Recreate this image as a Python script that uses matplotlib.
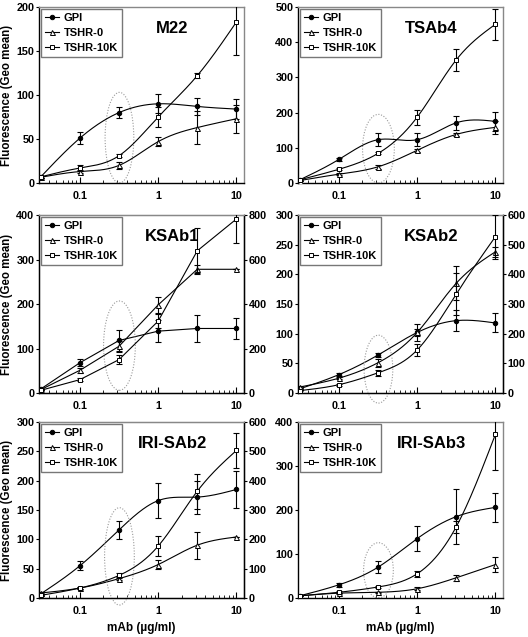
import numpy as np
import matplotlib
matplotlib.use("Agg")
import matplotlib.pyplot as plt
from matplotlib.patches import Ellipse
from matplotlib.lines import Line2D
from matplotlib.ticker import FixedLocator, NullFormatter

plt.rcParams['font.family'] = ['Liberation Sans', 'DejaVu Sans']
plt.rcParams['font.weight'] = 'bold'

# ---------------- data ----------------
doses = [0.0316, 0.1, 0.316, 1.0, 3.16, 10.0]
series_names = ["GPI", "TSHR-0", "TSHR-10K"]
panel_titles = ["M22", "TSAb4", "KSAb1", "KSAb2", "IRI-SAb2", "IRI-SAb3"]

m22_gpi = [7, 51, 80, 90, 87, 84]
m22_gpi_err = [1, 7, 6, 11, 10, 11]
m22_t0 = [6.5, 13, 20, 47, 63, 73]
m22_t0_err = [1, 2, 4, 5, 19, 16]
m22_t10 = [7, 17, 31, 75, 122, 183]
m22_t10_err = [1, 3, 2, 11, 3, 38]

tsab4_gpi = [9, 67, 123, 123, 171, 175]
tsab4_gpi_err = [2, 4, 18, 18, 20, 26]
tsab4_t0 = [7, 25, 46, 93, 138, 158]
tsab4_t0_err = [1, 3, 5, 4, 5, 18]
tsab4_t10 = [9, 39, 84, 187, 350, 451]
tsab4_t10_err = [2, 3, 3, 21, 32, 44]

ksab1_gpi = [9, 68, 118, 139, 145, 145]
ksab1_gpi_err = [2, 8, 24, 24, 30, 24]
ksab1_t0 = [7.5, 51, 105, 198, 278, 278]
ksab1_t0_err = [1, 5, 12, 18, 9, 0]
ksab1_t10 = [12, 60, 150, 323, 639, 782]      # right axis
ksab1_t10_err = [3, 6, 20, 30, 102, 110]

ksab2_gpi = [7, 31, 64, 102, 122, 118]
ksab2_gpi_err = [1, 3, 4, 14, 18, 16]
ksab2_t0 = [10, 25, 51, 102, 185, 238]
ksab2_t0_err = [1, 2, 7, 6, 29, 8]
ksab2_t10 = [8, 28, 68, 145, 334, 527]         # right axis
ksab2_t10_err = [2, 3, 10, 20, 70, 74]

irisab2_gpi = [7, 55, 116, 166, 172, 185]
irisab2_gpi_err = [1, 8, 15, 30, 28, 31]
irisab2_t0 = [8.5, 17, 33, 57, 90, 104]
irisab2_t0_err = [1, 2, 3, 8, 23, 0]
irisab2_t10 = [9, 34, 77, 177, 364, 503]       # right axis
irisab2_t10_err = [2, 3, 8, 35, 60, 60]

irisab3_gpi = [5, 30, 70, 135, 185, 206]
irisab3_gpi_err = [1, 5, 14, 29, 62, 33]
irisab3_t0 = [5, 11, 13, 21, 46, 76]
irisab3_t0_err = [1, 1, 1, 3, 7, 17]
irisab3_t10 = [5, 13, 25, 55, 162, 372]
irisab3_t10_err = [1, 2, 2, 7, 14, 81]

left_ylims = [200, 500, 400, 300, 300, 400]
left_steps = [50, 100, 100, 50, 50, 100]
right_ylims = [None, None, 800, 600, 600, None]
right_steps = [None, None, 200, 100, 100, None]
smooth_flags = [True, True, False, True, True, True]

panels = [
    (m22_gpi, m22_gpi_err, m22_t0, m22_t0_err, m22_t10, m22_t10_err),
    (tsab4_gpi, tsab4_gpi_err, tsab4_t0, tsab4_t0_err, tsab4_t10, tsab4_t10_err),
    (ksab1_gpi, ksab1_gpi_err, ksab1_t0, ksab1_t0_err, ksab1_t10, ksab1_t10_err),
    (ksab2_gpi, ksab2_gpi_err, ksab2_t0, ksab2_t0_err, ksab2_t10, ksab2_t10_err),
    (irisab2_gpi, irisab2_gpi_err, irisab2_t0, irisab2_t0_err, irisab2_t10, irisab2_t10_err),
    (irisab3_gpi, irisab3_gpi_err, irisab3_t0, irisab3_t0_err, irisab3_t10, irisab3_t10_err),
]

# ellipse (axes fraction): bottom, top, width
ellipses = [(0.0, 0.515, 0.14), (0.0, 0.39, 0.155), (0.015, 0.517, 0.155),
            (-0.057, 0.325, 0.14), (-0.04, 0.513, 0.145), (0.0, 0.314, 0.145)]


def spline_curve(x, y, n=300):
    lx = np.log10(np.asarray(x, float))
    yy = np.asarray(y, float)
    m = len(lx)
    h = np.diff(lx)
    A = np.zeros((m, m))
    r = np.zeros(m)
    A[0, 0] = 1
    A[-1, -1] = 1
    for i in range(1, m - 1):
        A[i, i - 1] = h[i - 1]
        A[i, i] = 2 * (h[i - 1] + h[i])
        A[i, i + 1] = h[i]
        r[i] = 6 * ((yy[i + 1] - yy[i]) / h[i] - (yy[i] - yy[i - 1]) / h[i - 1])
    M = np.linalg.solve(A, r)
    xs = np.linspace(lx[0], lx[-1], n)
    ys = np.empty_like(xs)
    for k, xv in enumerate(xs):
        i = min(np.searchsorted(lx, xv) - 1, m - 2)
        i = max(i, 0)
        t1 = lx[i + 1] - xv
        t0 = xv - lx[i]
        ys[k] = (M[i] * t1 ** 3 + M[i + 1] * t0 ** 3) / (6 * h[i]) \
            + (yy[i] / h[i] - M[i] * h[i] / 6) * t1 \
            + (yy[i + 1] / h[i] - M[i + 1] * h[i] / 6) * t0
    return 10 ** xs, ys


W, H = 528, 637
fig = plt.figure(figsize=(W / 100, H / 100), dpi=100)

col_x = [(39, 244), (298, 503)]
row_y = [(7, 183), (215, 393), (422, 598)]

styles = [dict(marker='o', mfc='black', ms=3.2),
          dict(marker='^', mfc='white', ms=3.6),
          dict(marker='s', mfc='white', ms=3.2)]

xlo, xhi = 0.03, 12.5
FS = 7.8

for idx in range(6):
    r, c = divmod(idx, 2)
    x0, x1 = col_x[c]
    y0, y1 = row_y[r]
    ax = fig.add_axes([x0 / W, 1 - y1 / H, (x1 - x0) / W, (y1 - y0) / H])
    ax.set_xscale('log')
    ax.set_xlim(xlo, xhi)
    ax.set_ylim(0, left_ylims[idx])
    ax.set_yticks(np.arange(0, left_ylims[idx] + 1, left_steps[idx]))
    ax.xaxis.set_major_locator(FixedLocator([0.1, 1, 10]))
    ax.set_xticklabels(['0.1', '1', '10'])
    ax.xaxis.set_minor_locator(FixedLocator(
        [m * 10.0 ** e for e in (-2, -1, 0) for m in range(2, 10) if xlo <= m * 10.0 ** e <= xhi]))
    ax.xaxis.set_minor_formatter(NullFormatter())
    ax.tick_params(axis='x', which='major', direction='in', length=4, width=0.8, labelsize=FS, pad=6)
    ax.tick_params(axis='x', which='minor', direction='in', length=2.5, width=0.6)
    ax.tick_params(axis='y', direction='out', length=2.3, width=0.8, labelsize=FS, pad=1.0)
    for s in ('left', 'bottom'):
        ax.spines[s].set_linewidth(1.0)
    ax.spines['top'].set_color('#888888')
    ax.spines['top'].set_linewidth(1.0)
    ax.spines['right'].set_color('#888888')
    ax.spines['right'].set_linewidth(1.0)

    gpi, gpi_e, t0, t0_e, t10, t10_e = panels[idx]
    vals = [(gpi, gpi_e), (t0, t0_e), (t10, t10_e)]
    top_ax = ax
    axes_for = [ax, ax, ax]
    if right_ylims[idx] is not None:
        ax2 = ax.twinx()
        ax2.set_ylim(0, right_ylims[idx])
        ax2.set_yticks(np.arange(0, right_ylims[idx] + 1, right_steps[idx]))
        ax2.tick_params(axis='y', direction='out', length=2.3, width=0.8, labelsize=FS, pad=1.0)
        ax2.spines['right'].set_color('black')
        ax2.spines['right'].set_linewidth(1.0)
        ax2.spines['top'].set_color('#888888')
        axes_for = [ax, ax, ax2]
        top_ax = ax2

    handles = []
    for k in range(3):
        a = axes_for[k]
        yv, ye = vals[k]
        if smooth_flags[idx]:
            xs, ys = spline_curve(doses, yv)
        else:
            xs, ys = doses, yv
        a.plot(xs, ys, color='black', lw=0.8, zorder=3)
        a.errorbar(doses, yv, yerr=ye, fmt='none', ecolor='black', elinewidth=0.8,
                   capsize=2, capthick=0.8, zorder=3)
        a.plot(doses, yv, ls='none', color='black', mec='black', mew=0.7,
               zorder=4, **styles[k])
        handles.append(Line2D([], [], color='black', lw=0.8, mec='black', mew=0.7,
                              **styles[k]))

    # dotted ellipse around 0.316
    eb, et, ew = ellipses[idx]
    cx = (np.log10(0.32) - np.log10(xlo)) / (np.log10(xhi) - np.log10(xlo))
    e = Ellipse((cx, (eb + et) / 2), ew, et - eb, transform=ax.transAxes,
                fill=False, ls=(0, (1, 1.5)), lw=0.8, ec='#999999', clip_on=False, zorder=2)
    top_ax.add_patch(e)

    top_ax.text(0.65, 0.88, panel_titles[idx], transform=ax.transAxes, fontsize=12,
                fontweight='bold', ha='center', va='center', zorder=6)

    leg = top_ax.legend(handles, series_names, loc='upper left', bbox_to_anchor=(0.01, 0.99),
                        borderaxespad=0, frameon=True, fancybox=False, fontsize=8,
                        handlelength=1.3, handletextpad=0.4, labelspacing=0.45,
                        borderpad=0.35)
    leg.get_frame().set_edgecolor('#555555')
    leg.get_frame().set_linewidth(1.0)
    leg.set_zorder(7)

    if c == 0:
        fig.text(7 / W, 1 - ((y0 + y1) / 2) / H, 'Fluorescence (Geo mean)', rotation=90,
                 fontsize=8.3, fontweight='bold', ha='center', va='center')
    if r == 2:
        ax.set_xlabel('mAb (µg/ml)', fontsize=8.5, fontweight='bold', labelpad=4)

fig.savefig('out.png', dpi=100)
